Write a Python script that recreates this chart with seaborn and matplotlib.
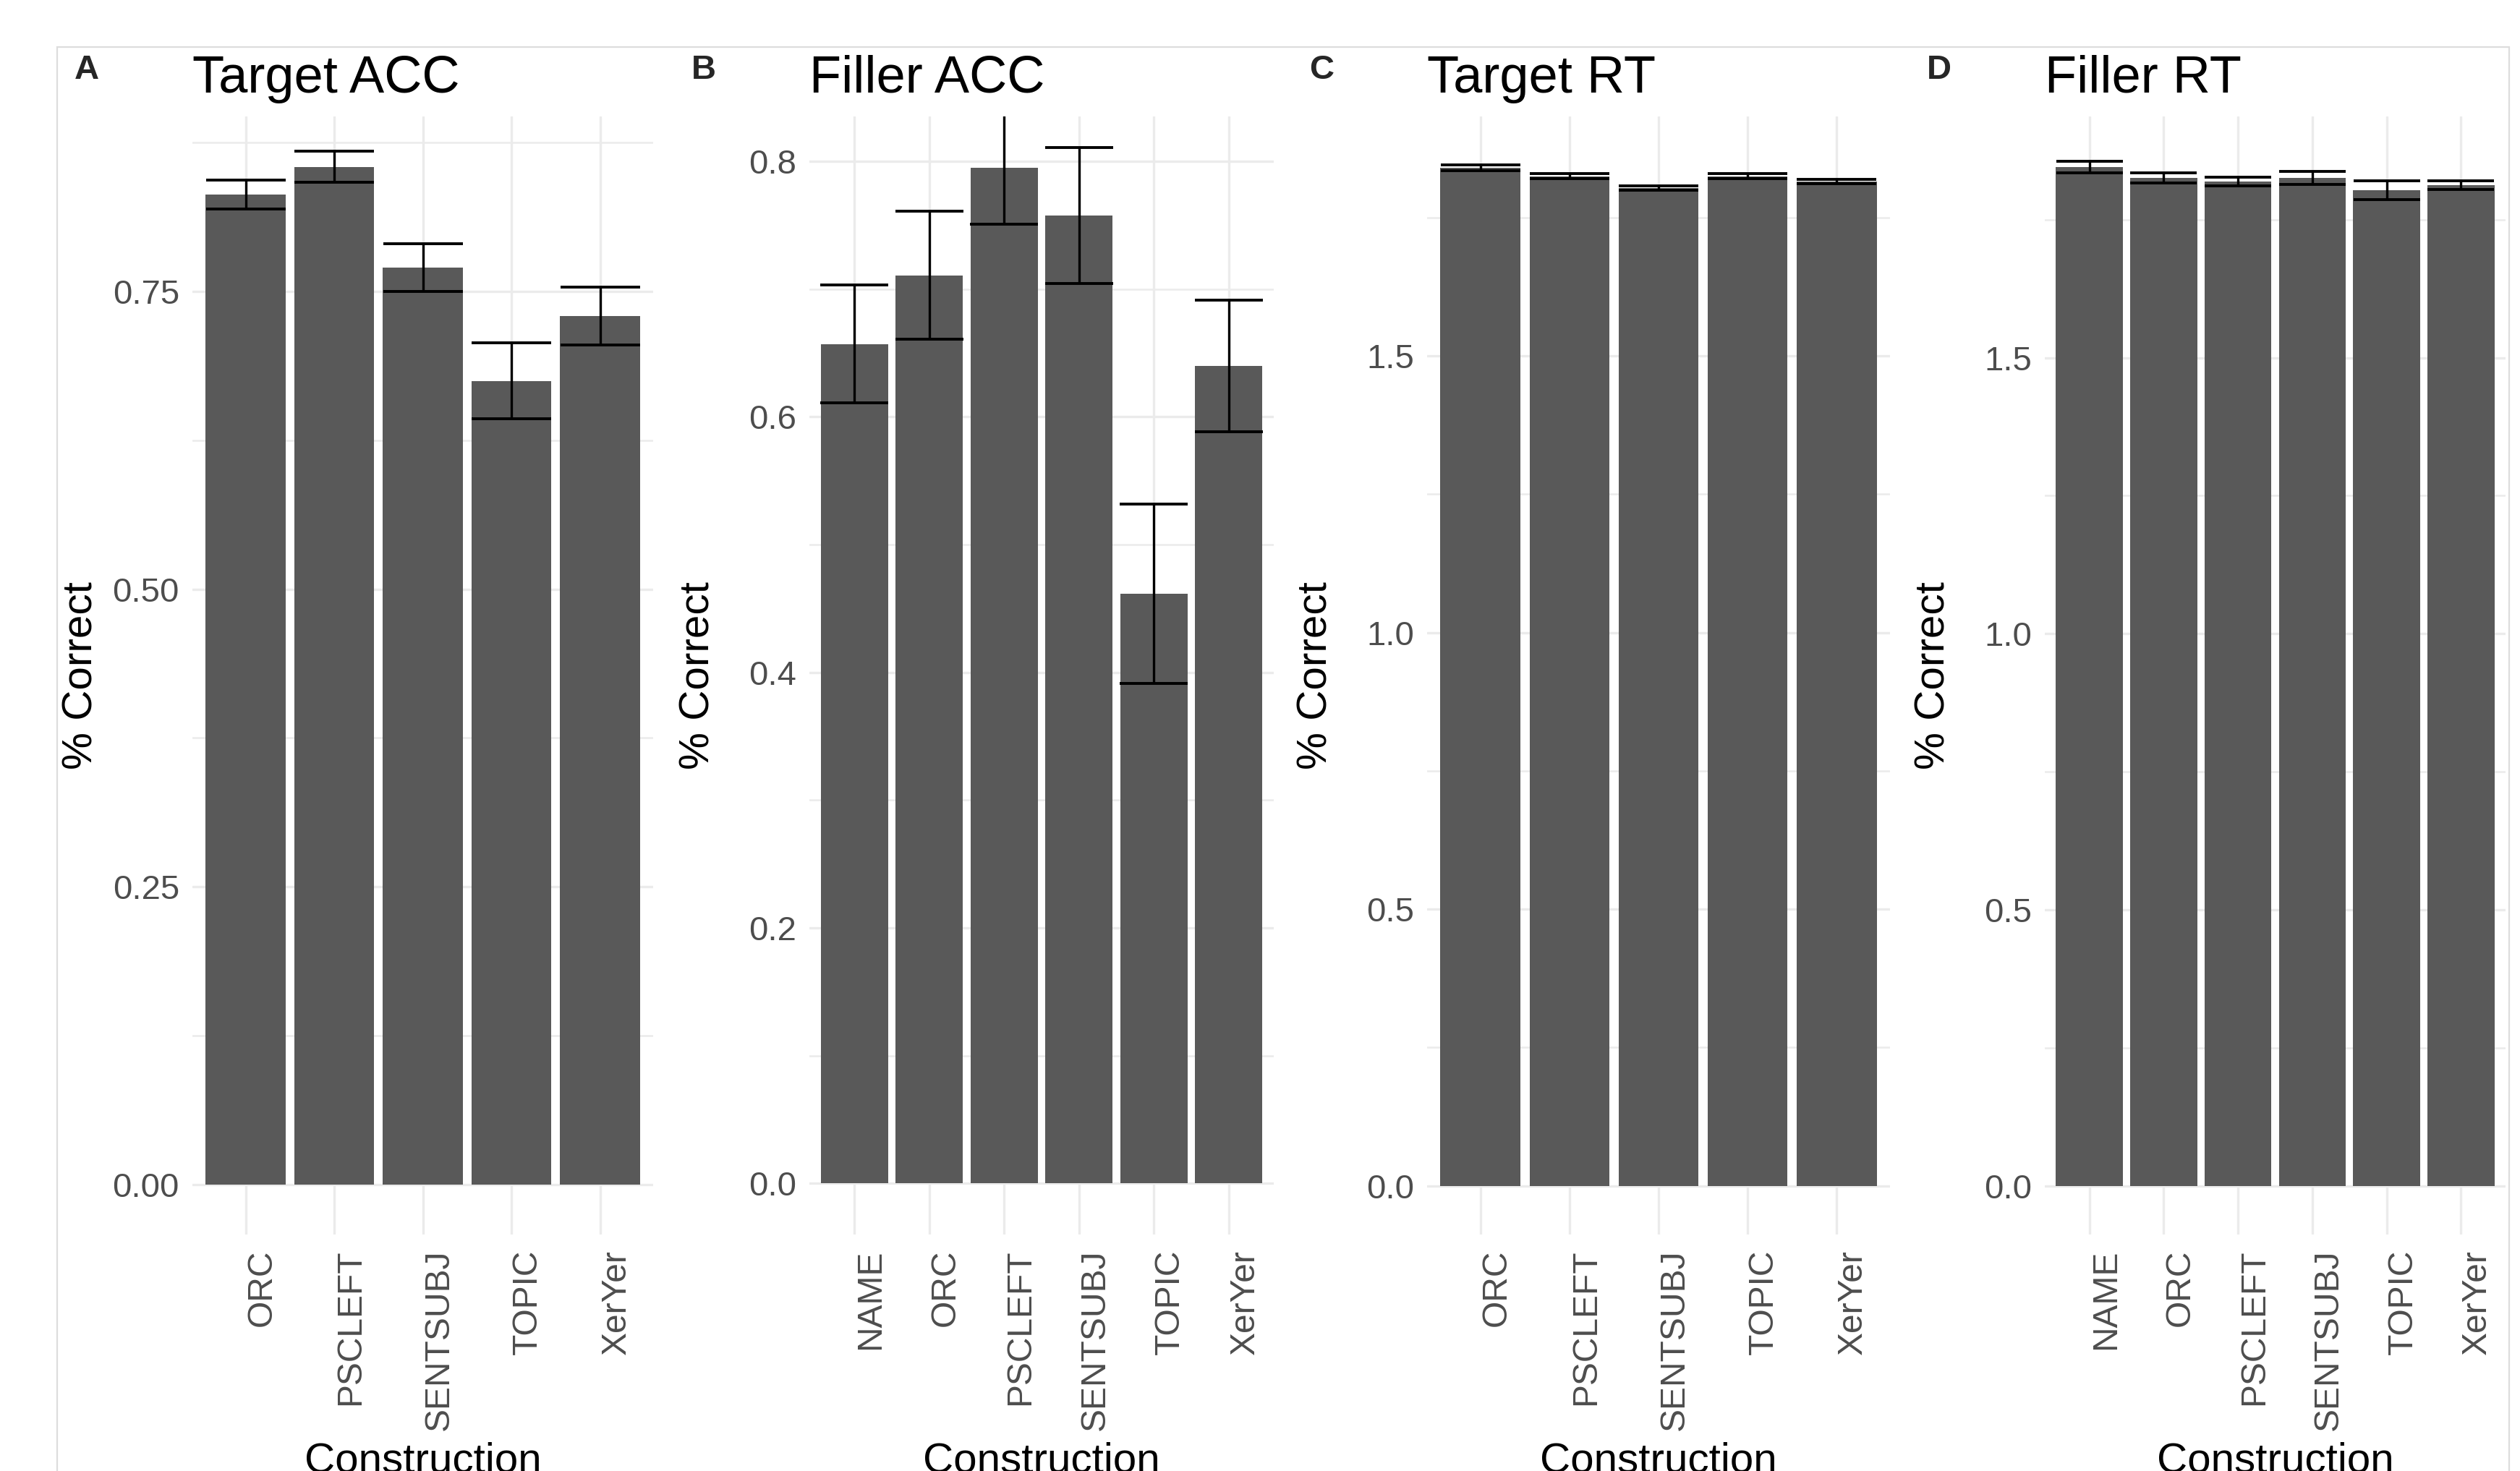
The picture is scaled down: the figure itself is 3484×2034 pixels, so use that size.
import numpy as np
import pandas as pd
import seaborn as sns
import matplotlib.pyplot as plt
from matplotlib.patches import Rectangle
from matplotlib.ticker import MultipleLocator

# ---- data ----
target_acc_labels = ['ORC', 'PSCLEFT', 'SENTSUBJ', 'TOPIC', 'XerYer']
target_acc_mean = [0.8315, 0.8547, 0.7700, 0.6750, 0.7295]
target_acc_se = [0.0122, 0.0131, 0.0200, 0.0320, 0.0243]

filler_acc_labels = ['NAME', 'ORC', 'PSCLEFT', 'SENTSUBJ', 'TOPIC', 'XerYer']
filler_acc_mean = [0.657, 0.7107, 0.7949, 0.7576, 0.4615, 0.6398]
filler_acc_se = [0.046, 0.0500, 0.0442, 0.0533, 0.0700, 0.0517]

target_rt_labels = ['ORC', 'PSCLEFT', 'SENTSUBJ', 'TOPIC', 'XerYer']
target_rt_mean = [1.840, 1.825, 1.8035, 1.825, 1.8155]
target_rt_se = [0.005, 0.005, 0.0035, 0.005, 0.0035]

filler_rt_labels = ['NAME', 'ORC', 'PSCLEFT', 'SENTSUBJ', 'TOPIC', 'XerYer']
filler_rt_mean = [1.8455, 1.8255, 1.819, 1.8255, 1.8035, 1.8125]
filler_rt_se = [0.0105, 0.0095, 0.008, 0.0115, 0.0165, 0.0075]

panels = [
    ('A', 'Target ACC', target_acc_labels, target_acc_mean, target_acc_se, (-0.042, 0.897), 0.25),
    ('B', 'Filler ACC', filler_acc_labels, filler_acc_mean, filler_acc_se, (-0.04, 0.835), 0.2),
    ('C', 'Target RT', target_rt_labels, target_rt_mean, target_rt_se, (-0.088, 1.933), 0.5),
    ('D', 'Filler RT', filler_rt_labels, filler_rt_mean, filler_rt_se, (-0.088, 1.937), 0.5),
]

sns.set_theme(style='white')
plt.rcParams['font.family'] = ['Liberation Sans', 'DejaVu Sans']

W, H, DPI = 3484, 2034, 200
fig = plt.figure(figsize=(W / DPI, H / DPI), dpi=DPI)

# thin grey frame around the plotting area (figure is cropped at the bottom)
fig.patches.append(Rectangle((79 / W, -0.2), (3469 - 79) / W, 1.2 - 65 / H,
                             transform=fig.transFigure, fill=False,
                             edgecolor='#DDDDDD', linewidth=0.8))

lefts = [266, 1119, 1973, 2827]
widths = [637, 642, 640, 637]
top_px, bot_px = 161, 1707

for (tag, title, cats, mean, se, ylim, step), lpx, wpx in zip(panels, lefts, widths):
    ax = fig.add_axes([lpx / W, 1 - bot_px / H, wpx / W, (bot_px - top_px) / H])
    df = pd.DataFrame({'Construction': cats, 'mean': mean})
    sns.barplot(data=df, x='Construction', y='mean', order=cats, color='#595959',
                saturation=1, width=0.9, errorbar=None, linewidth=0, ax=ax)
    n = len(cats)
    # cap length equals bar width
    cap = 0.45 * (wpx / DPI * 72) / (n + 0.2)
    ax.errorbar(np.arange(n), mean, yerr=se, fmt='none', ecolor='black',
                elinewidth=1.2, capsize=cap, capthick=1.4, zorder=3)

    ax.set_xlim(-0.6, n - 0.4)
    ax.set_ylim(*ylim)
    ax.yaxis.set_major_locator(MultipleLocator(step))
    ax.yaxis.set_minor_locator(MultipleLocator(step / 2))
    if step == 0.25:
        ax.yaxis.set_major_formatter(plt.FuncFormatter(lambda v, p: f'{v:.2f}'))
    else:
        ax.yaxis.set_major_formatter(plt.FuncFormatter(lambda v, p: f'{v:.1f}'))

    ax.set_axisbelow(True)
    ax.grid(False)
    ax.xaxis.grid(True, which='major', color='#EBEBEB', linewidth=1.2)
    ax.yaxis.grid(True, which='major', color='#EBEBEB', linewidth=1.2)
    ax.yaxis.grid(True, which='minor', color='#EBEBEB', linewidth=0.9)
    for s in ax.spines.values():
        s.set_visible(False)
    ax.tick_params(which='both', length=0)
    ax.tick_params(axis='y', labelsize=17, labelcolor='#4D4D4D', pad=6.5)
    ax.tick_params(axis='x', labelsize=17.3, labelcolor='#4D4D4D', pad=7.5, rotation=90)
    for lab in ax.get_xticklabels():
        lab.set_horizontalalignment('left')
        lab.set_verticalalignment('top')

    ax.set_ylabel('% Correct', fontsize=21, color='black')
    ax.yaxis.set_label_coords(-154 / wpx, 0.5)
    ax.yaxis.label.set_verticalalignment('center')
    ax.set_xlabel('Construction', fontsize=21, color='black')
    ax.xaxis.set_label_coords(0.5, -0.185)
    ax.xaxis.label.set_verticalalignment('top')

    ax.set_title(title, loc='left', fontsize=26, pad=12, color='black')
    fig.text((lpx - 163) / W, 1 - 75 / H, tag, fontsize=17, fontweight='bold',
             ha='left', va='top')

fig.savefig('out.png', dpi=DPI, facecolor='white')
